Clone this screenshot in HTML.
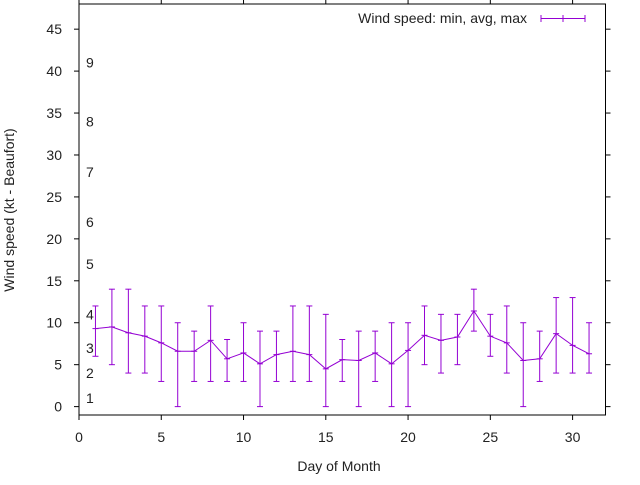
<!DOCTYPE html>
<html><head><meta charset="utf-8"><style>
body{margin:0;background:#fff}
svg text{font-family:"Liberation Sans",sans-serif;fill:#222}
</style></head><body>
<svg width="640" height="480" viewBox="0 0 640 480" xmlns="http://www.w3.org/2000/svg">
<g id="axes"></g>
<g id="beaufort"></g>
<g id="series"></g>
<text x="14" y="210" font-size="14" text-anchor="middle" transform="rotate(-90 14 210)">Wind speed (kt - Beaufort)</text>
<text x="339" y="471" font-size="14" text-anchor="middle">Day of Month</text>
<g>
<text x="527" y="23" font-size="14" text-anchor="end">Wind speed: min, avg, max</text>
<g stroke="#9400d3" stroke-width="1">
<line x1="541" y1="18.5" x2="585" y2="18.5"/><line x1="541" y1="15" x2="541" y2="22"/><line x1="585" y1="15" x2="585" y2="22"/><line x1="563" y1="15" x2="563" y2="22"/>
</g></g>
</svg>
<script>
const days=[1,2,3,4,5,6,7,8,9,10,11,12,13,14,15,16,17,18,19,20,21,22,23,24,25,26,27,28,29,30,31];
const avgs=[9.3,9.5,8.8,8.4,7.6,6.6,6.6,7.9,5.7,6.4,5.1,6.2,6.6,6.2,4.5,5.6,5.5,6.4,5.1,6.7,8.5,7.9,8.3,11.4,8.4,7.6,5.5,5.7,8.7,7.3,6.3];
const mins=[6,5,4,4,3,0,3,3,3,3,0,3,3,3,0,3,0,3,0,0,5,4,5,9,6,4,0,3,4,4,4];
const maxs=[12,14,14,12,12,10,9,12,8,10,9,9,12,12,11,8,9,9,10,10,12,11,11,14,11,12,10,9,13,13,10];
const xTicks=[0,5,10,15,20,25,30];
const yTicks=[0,5,10,15,20,25,30,35,40,45];
const bftLabels=["1","2","3","4","5","6","7","8","9"];
const bftValues=[1,4,7,11,17,22,28,34,41];
const L=79,R=605.5,T=4,B=415,X0=0,X1=32,Y0=-1,Y1=48;
const sx=v=>L+(v-X0)/(X1-X0)*(R-L);
const sy=v=>B-(v-Y0)/(Y1-Y0)*(B-T);
const NS="http://www.w3.org/2000/svg";
function mk(tag,attrs,parent){const e=document.createElementNS(NS,tag);for(const k in attrs)e.setAttribute(k,attrs[k]);parent.appendChild(e);return e;}
const ax=document.getElementById('axes');
const border=mk('rect',{x:L,y:T,width:R-L,height:B-T,fill:'none',stroke:'#000','stroke-width':1},ax);


xTicks.forEach(v=>{
 const x=sx(v);
 const t1=mk('line',{x1:x,y1:B,x2:x,y2:B+5,stroke:'#000'},ax);
 
 
 const t2=mk('line',{x1:x,y1:T,x2:x,y2:T-5,stroke:'#000'},ax);
 
 
 const tx=mk('text',{x:x,y:442,'font-size':14,'text-anchor':'middle'},ax);
 tx.textContent=v;
 
 
});
yTicks.forEach(v=>{
 const y=sy(v);
 const t1=mk('line',{x1:L,y1:y,x2:L-5,y2:y,stroke:'#000'},ax);
 
 
 const t2=mk('line',{x1:R,y1:y,x2:R+5,y2:y,stroke:'#000'},ax);
 
 
 const tx=mk('text',{x:L-17,y:y+5,'font-size':14,'text-anchor':'end'},ax);
 tx.textContent=v;
 
 
});
const bg=document.getElementById('beaufort');
bftLabels.forEach((s,i)=>{
 const tx=mk('text',{x:86,y:sy(bftValues[i])+5,'font-size':14},bg);
 tx.textContent=s;
 
 
});
const sg=document.getElementById('series');
const C='#9400d3';
days.forEach((d,i)=>{
 const x=sx(d);
 const g=mk('g',{stroke:C,'stroke-width':1},sg);
 
 
 mk('line',{x1:x,y1:sy(mins[i]),x2:x,y2:sy(maxs[i])},g);
 mk('line',{x1:x-3,y1:sy(mins[i]),x2:x+3,y2:sy(mins[i])},g);
 mk('line',{x1:x-3,y1:sy(maxs[i]),x2:x+3,y2:sy(maxs[i])},g);
 mk('line',{x1:x-3,y1:sy(avgs[i]),x2:x+3,y2:sy(avgs[i])},g);
});
const pl=mk('polyline',{points:days.map((d,i)=>sx(d)+','+sy(avgs[i])).join(' '),fill:'none',stroke:C,'stroke-width':1},sg);


</script>
</body></html>
